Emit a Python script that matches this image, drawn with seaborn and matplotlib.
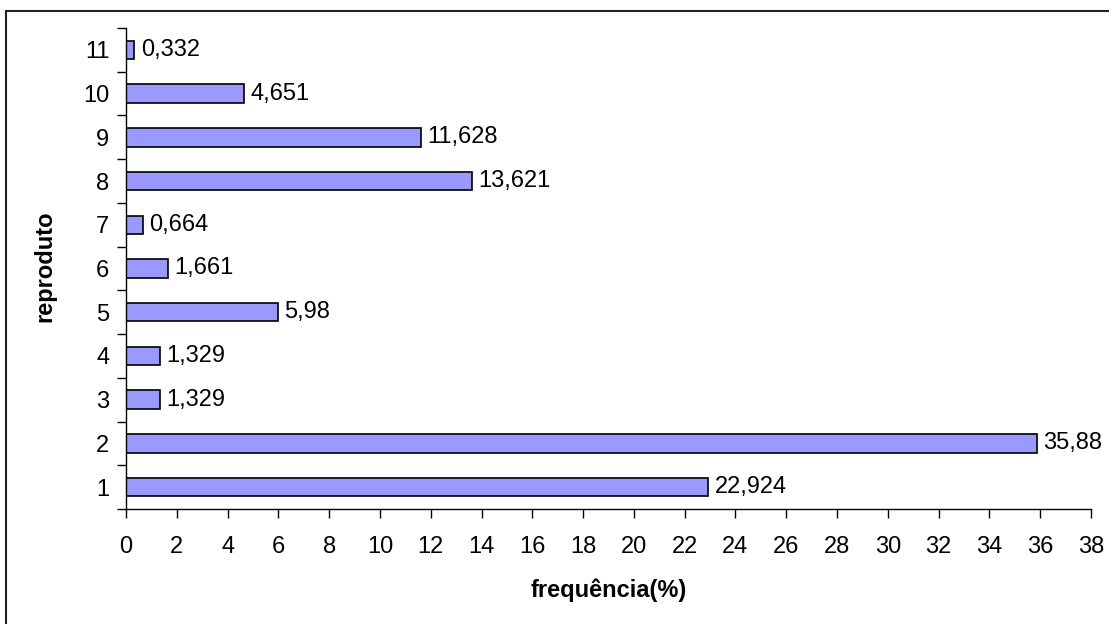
import matplotlib
matplotlib.use("Agg")
import matplotlib.pyplot as plt
import seaborn as sns
import pandas as pd
from matplotlib.patches import Rectangle
from matplotlib.transforms import Bbox, TransformedBbox

# ── data ─────────────────────────────────────────────────────────────────────
categories = ["11", "10", "9", "8", "7", "6", "5", "4", "3", "2", "1"]
values     = [0.332, 4.651, 11.628, 13.621, 0.664, 1.661, 5.98, 1.329, 1.329, 35.88, 22.924]
labels     = ["0,332", "4,651", "11,628", "13,621", "0,664", "1,661", "5,98",
              "1,329", "1,329", "35,88", "22,924"]
x_ticks    = list(range(0, 39, 2))

df = pd.DataFrame({"reproduto": categories, "freq": values})

# ── style ────────────────────────────────────────────────────────────────────
sns.set_style("white")
plt.rcParams["font.family"] = ["Liberation Sans", "DejaVu Sans"]
plt.rcParams["text.color"] = "black"
plt.rcParams["xtick.color"] = "black"
plt.rcParams["ytick.color"] = "black"
plt.rcParams["axes.labelcolor"] = "black"
FS = 17

W, H = 1109, 624
fig = plt.figure(figsize=(W / 100, H / 100), dpi=100)
ax = fig.add_axes([126 / W, 1 - 509 / H, (1091 - 126) / W, (509 - 28) / H])

sns.barplot(data=df, x="freq", y="reproduto", order=categories, orient="h",
            color="#9999FF", saturation=1, width=0.42,
            edgecolor="black", linewidth=1.2, ax=ax)

# value labels
for i, (v, lab) in enumerate(zip(values, labels)):
    ax.text(v + 0.25, i, lab, va="center", ha="left", fontsize=FS, color="black")

# axes
ax.set_xlim(0, 38)
ax.set_ylim(len(categories) - 0.5, -0.5)
ax.set_xticks(x_ticks)
ax.set_xticklabels([str(t) for t in x_ticks], fontsize=FS)

# ticks between categories, labels at centers (excel style)
ax.set_yticks([i - 0.5 for i in range(len(categories) + 1)])
ax.set_yticklabels([])
ax.set_yticks(range(len(categories)), minor=True)
ax.set_yticklabels(categories, minor=True, fontsize=FS)
ax.tick_params(axis="y", which="major", length=6.5, width=1, color="black", direction="out", left=True)
ax.tick_params(axis="y", which="minor", length=0, pad=12, labelcolor="black")
ax.tick_params(axis="x", which="major", length=6.5, width=1, color="black", direction="out",
               bottom=True, pad=13, labelcolor="black")

for s in ["top", "right"]:
    ax.spines[s].set_visible(False)
for s in ["left", "bottom"]:
    ax.spines[s].set_color("black")
    ax.spines[s].set_linewidth(1)

ax.set_xlabel("")
ax.set_ylabel("")
fig.text(609 / W, 1 - 590 / H, "frequência(%)", ha="center", va="center",
         fontsize=FS, fontweight="bold", color="black")
yl = fig.text(45 / W, 1 - 266 / H, "reproduto", ha="center", va="center",
              rotation=90, fontsize=FS, fontweight="bold", color="black", clip_on=True)
# the axis title is cut off at the top in the original
yl.set_clip_box(TransformedBbox(Bbox([[0, 0], [1, 1 - 212 / H]]), fig.transFigure))

# outer chart border (extends past the image on right/bottom)
fig.patches.append(Rectangle((6 / W, -0.1), 1.2, 1 - 11 / H + 0.1,
                             transform=fig.transFigure, fill=False,
                             edgecolor="#222222", linewidth=1.5))

fig.savefig("out.png", dpi=100)
